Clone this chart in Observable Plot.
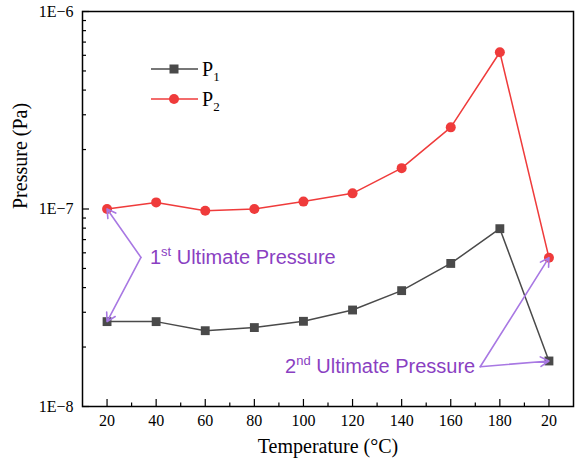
<!DOCTYPE html>
<html><head><meta charset="utf-8">
<script src="https://cdn.jsdelivr.net/npm/d3@7"></script>
<script src="https://cdn.jsdelivr.net/npm/@observablehq/plot@0.6"></script>
<style>
body{margin:0;background:#fff}
#wrap{position:relative;width:579px;height:468px}
#legend{position:absolute;left:0;top:0;pointer-events:none}
</style>
</head><body><div id="wrap"></div>
<script>
// ---- data ----
const temperatures = ["20","40","60","80","100","120","140","160","180","20"];
const p1 = [2.69e-8, 2.69e-8, 2.42e-8, 2.51e-8, 2.70e-8, 3.08e-8, 3.86e-8, 5.30e-8, 7.95e-8, 1.70e-8];
const p2 = [1.00e-7, 1.08e-7, 0.98e-7, 1.00e-7, 1.09e-7, 1.20e-7, 1.61e-7, 2.59e-7, 6.22e-7, 5.67e-8];
const seriesNames = ["P1", "P2"];
const yMajorTicks = [1e-8, 1e-7, 1e-6];
const annotationLabels = ["1st Ultimate Pressure", "2nd Ultimate Pressure"];
const xTitle = "Temperature (°C)";
const yTitle = "Pressure (Pa)";

// ---- styling / layout ----
const colors = {P1: "#4a4a4a", P2: "#ef3b3b"};
const purpleText = "#8a3fc2", purpleArrow = "#a878e3";
const serif = "'Liberation Serif','Times New Roman',serif";
const sans = "'Liberation Sans',Arial,sans-serif";

const idx = d3.range(temperatures.length);
const rows1 = idx.map(i => ({i, v: p1[i]}));
const rows2 = idx.map(i => ({i, v: p2[i]}));
const minorY = [];
for (const dec of [1e-8, 1e-7]) for (let k = 2; k <= 9; k++) minorY.push(k * dec);
const minorX = idx.slice(0, -1).map(i => i + 0.5);

// annotation vertices (where the two arrows meet), in data space
const notes = [
  {label: annotationLabels[0], x: 0.69, y: 5.69e-8, anchor: "start", dx: 9, targets: [[p2, 0, 9], [p1, 0, 10]]},
  {label: annotationLabels[1], x: 7.60, y: 1.59e-8, anchor: "end", dx: -5, targets: [[p2, 9, 8], [p1, 9, 7]]}
];
const arrows = notes.flatMap(n => n.targets.map(([s, i, inset]) => ({x1: n.x, y1: n.y, x2: i, y2: s[i], inset})));

const chart = Plot.plot({
  width: 579, height: 468,
  marginLeft: 82, marginRight: 6, marginTop: 11, marginBottom: 62,
  x: {type: "linear", domain: [-0.5, 9.5]},
  y: {type: "log", domain: [1e-8, 1e-6]},
  style: {fontFamily: serif, fontSize: "16px", color: "#000", background: "#fff", overflow: "visible"},
  marks: [
    Plot.axisX({ticks: idx, tickSize: 0, tickPadding: 8, tickFormat: i => temperatures[i], fontSize: 16, label: null}),
    Plot.axisX({ticks: idx, tickSize: -7, tickFormat: () => "", label: null, strokeWidth: 1.2}),
    Plot.axisX({ticks: minorX, tickSize: -3.5, tickFormat: () => "", label: null, strokeWidth: 1.2}),
    Plot.axisY({ticks: yMajorTicks, tickSize: 0, tickPadding: 9, tickFormat: d => "1E\u2212" + Math.round(-Math.log10(d)), fontSize: 16, label: null}),
    Plot.axisY({ticks: yMajorTicks, tickSize: -7, tickFormat: () => "", label: null, strokeWidth: 1.2}),
    Plot.axisY({ticks: minorY, tickSize: -4, tickFormat: () => "", label: null, strokeWidth: 1.2}),
    Plot.text([xTitle], {frameAnchor: "bottom", dy: 46, text: d => d, fontSize: 20, fontWeight: 400, fill: "#000"}),
    Plot.text([yTitle], {frameAnchor: "left", dx: -62, rotate: -90, text: d => d, fontSize: 20, fontWeight: 400, fill: "#000"}),
    Plot.line(rows1, {x: "i", y: "v", stroke: colors.P1, strokeWidth: 1.5}),
    Plot.dot(rows1, {x: "i", y: "v", symbol: "square", r: 5, fill: colors.P1, stroke: "none"}),
    Plot.line(rows2, {x: "i", y: "v", stroke: colors.P2, strokeWidth: 1.5}),
    Plot.dot(rows2, {x: "i", y: "v", r: 5, fill: colors.P2, stroke: "none"}),
    Plot.arrow(arrows, {x1: "x1", y1: "y1", x2: "x2", y2: "y2", stroke: purpleArrow, strokeWidth: 1.6, headLength: 9, insetEnd: d => d.inset}),
    Plot.text(notes, {x: "x", y: "y", text: "label", fill: purpleText, fontSize: 20, fontFamily: sans}),
    Plot.frame({stroke: "#000", strokeWidth: 1.5})
  ]
});

document.getElementById("wrap").appendChild(chart);

// superscripts + anchoring for the ordinal annotations
d3.select(chart).selectAll("text").each(function() {
  const t = this.textContent;
  const m = /^(\d)(st|nd|rd|th) (.*)$/.exec(t);
  if (!m || this.querySelector("tspan")) return;
  const note = notes.find(n => n.label === t);
  const el = d3.select(this);
  el.text(null);
  if (note) {
    el.attr("text-anchor", note.anchor);
    const tr = el.attr("transform") || "";
    el.attr("transform", tr + ` translate(${note.dx},0)`);
  }
  el.append("tspan").text(m[1]);
  el.append("tspan").attr("dy", -8).attr("font-size", 13).text(m[2]);
  el.append("tspan").attr("dy", 8).text(" " + m[3]);
});

// legend (overlay)
const legendSvg = d3.select("#wrap").append("svg").attr("id", "legend").attr("width", 579).attr("height", 468);
seriesNames.forEach((name, k) => {
  const g = legendSvg.append("g").attr("transform", `translate(0,${69 + k * 30})`);
  g.append("line").attr("x1", 151).attr("x2", 198).attr("y1", 0).attr("y2", 0).attr("stroke", colors[name]).attr("stroke-width", 1.5);
  if (k === 0) g.append("rect").attr("x", 174 - 4.5).attr("y", -4.5).attr("width", 9).attr("height", 9).attr("fill", colors[name]);
  else g.append("circle").attr("cx", 174).attr("cy", 0).attr("r", 5).attr("fill", colors[name]);
  const tx = g.append("text").attr("x", 202).attr("y", 7).attr("font-family", serif).attr("font-size", 20).attr("fill", "#000");
  tx.append("tspan").text(name[0]);
  tx.append("tspan").attr("dy", 5).attr("font-size", 13).text(name.slice(1));
});
</script>
</body></html>
